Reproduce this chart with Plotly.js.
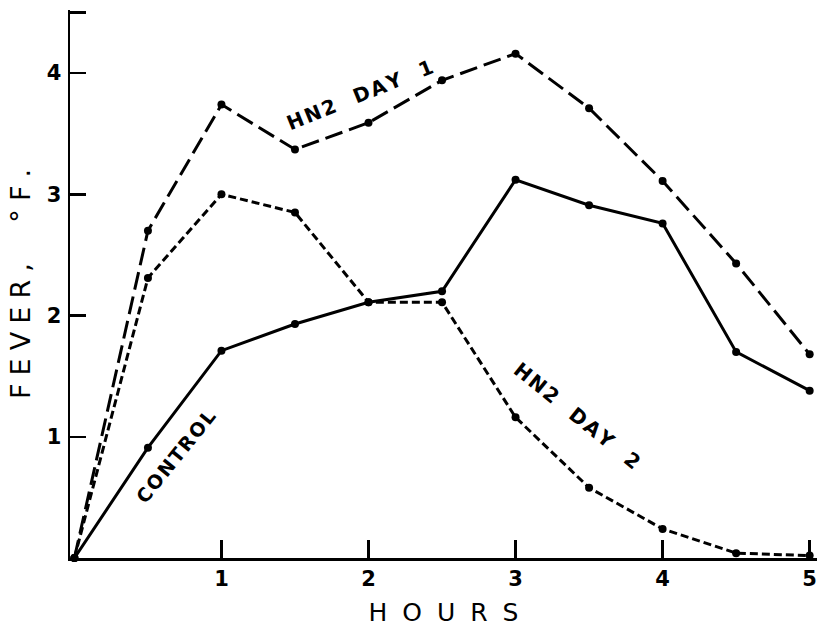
<!DOCTYPE html>
<html>
<head>
<meta charset="utf-8">
<script src="https://cdn.plot.ly/plotly-3.0.1.min.js"></script>
<style>
  html, body { margin: 0; padding: 0; background: #fff; }
  #chart { width: 817px; height: 630px; }
</style>
</head>
<body>
<div id="chart"></div>
<script>
// Hours after injection (half-hour readings)
const hours = [0, 0.5, 1, 1.5, 2, 2.5, 3, 3.5, 4, 4.5, 5];

// Fever, degrees F
const hn2Day1 = [0, 2.70, 3.74, 3.37, 3.59, 3.94, 4.16, 3.71, 3.11, 2.43, 1.68];
const hn2Day2 = [0, 2.31, 3.00, 2.85, 2.11, 2.11, 1.16, 0.58, 0.24, 0.04, 0.02];
const control = [0, 0.91, 1.71, 1.93, 2.11, 2.20, 3.12, 2.91, 2.76, 1.70, 1.38];

// Axis ticks
const xTickVals = [1, 2, 3, 4, 5];
const xTickText = ['1', '2', '3', '4', '5'];
const yTickVals = [1, 2, 3, 4, 4.5];
const yTickText = ['1', '2', '3', '4', ''];

// Curve labels and axis titles
const labelDay1 = 'HN2 DAY 1';
const labelDay2 = 'HN2 DAY 2';
const labelControl = 'CONTROL';
const xTitle = 'HOURS';
const yTitle = 'FEVER, °F.';

// spread lettering with thin spaces, words with wider gaps
function spread(s, gap, wordGap) {
  return s.split(' ').map(w => w.split('').join(gap)).join(wordGap);
}

const ink = '#000';
const letterFont = { family: 'DejaVu Sans', color: ink };

function curve(y, dash) {
  return {
    x: hours, y: y, type: 'scatter', mode: 'lines+markers',
    line: { color: ink, width: 3, dash: dash },
    marker: { color: ink, size: 8 },
    hoverinfo: 'skip', showlegend: false, cliponaxis: false
  };
}

const data = [
  curve(hn2Day1, '18px,7px'),
  curve(hn2Day2, '8px,4px'),
  curve(control, 'solid')
];

const ann = (text, x, y, angle, size) => ({
  text: text, x: x, y: y, xref: 'x', yref: 'y', showarrow: false,
  textangle: angle,
  font: Object.assign({ size: size, weight: 'bold' }, letterFont)
});

const layout = {
  width: 817, height: 630,
  margin: { l: 70, r: 0, t: 10, b: 72 },
  paper_bgcolor: '#fff', plot_bgcolor: '#fff',
  showlegend: false,
  xaxis: {
    range: [-0.03, 5.05],
    showgrid: false, zeroline: false,
    showline: true, linecolor: ink, linewidth: 2.5,
    ticks: 'inside', ticklen: 18, tickwidth: 2.5, tickcolor: ink,
    tickvals: xTickVals, ticktext: xTickText,
    tickfont: Object.assign({ size: 21, weight: 'bold' }, letterFont),
    title: {
      text: spread(xTitle, '\u2002\u200a', '\u2002'),
      font: Object.assign({ size: 25 }, letterFont),
      standoff: 14
    }
  },
  yaxis: {
    range: [0, 4.52],
    showgrid: false, zeroline: false,
    showline: true, linecolor: ink, linewidth: 2.5,
    ticks: 'inside', ticklen: 16, tickwidth: 2.5, tickcolor: ink,
    tickvals: yTickVals, ticktext: yTickText,
    ticklabelstandoff: 2,
    tickfont: Object.assign({ size: 21, weight: 'bold' }, letterFont),
    title: {
      text: spread(yTitle, '\u2009\u200a', '\u2003\u2002'),
      font: Object.assign({ size: 27 }, letterFont),
      standoff: 8
    }
  },
  annotations: [
    ann(spread(labelDay1, '\u200a', '\u2003'), 1.94, 3.82, -22, 20),
    ann(spread(labelDay2, '\u200a', '\u2003'), 3.42, 1.17, 39, 20),
    ann(spread(labelControl, '\u200a', '\u2002'), 0.69, 0.84, -51, 19)
  ]
};

Plotly.newPlot('chart', data, layout, { displayModeBar: false, staticPlot: true });
</script>
</body>
</html>
